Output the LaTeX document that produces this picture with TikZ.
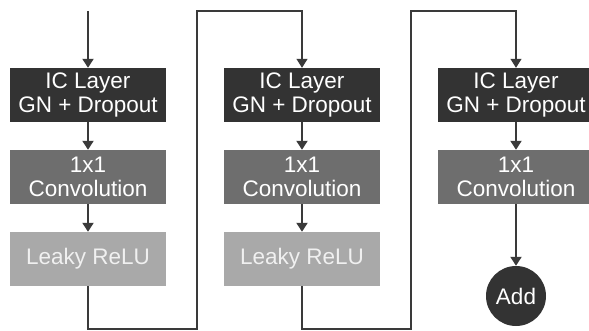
\documentclass[tikz,border=0pt]{standalone}
\usepackage{fontspec}
\setmainfont{Liberation Sans}
\usetikzlibrary{arrows.meta}
\definecolor{dk}{HTML}{333333}
\definecolor{md}{HTML}{6E6E6E}
\definecolor{lt}{HTML}{A9A9A9}
\definecolor{ln}{HTML}{3A3A3A}
\begin{document}
\begin{tikzpicture}[x=1pt,y=-1pt,
  blk/.style={minimum width=156pt,minimum height=54pt,inner sep=0pt,align=center,
    font=\fontsize{22.5}{24}\selectfont,text=white},
  gnbox/.style={blk,fill=dk},
  convbox/.style={blk,fill=md},
  relubox/.style={blk,fill=lt,text=white!94!black},
  addnode/.style={circle,fill=dk,minimum size=60pt,inner sep=0pt,text=white,font=\fontsize{22.5}{24}\selectfont},
  arr/.style={draw=ln,line width=2pt,-{Triangle[width=11pt,length=9pt]}},
  looparr/.style={draw=ln,line width=1.3pt,-{Triangle[width=11pt,length=9pt]}}]
\useasboundingbox (0,0) rectangle (589,331);
% column 1
\node[gnbox] (g1) at (88,95) {IC Layer\\GN + Dropout};
\node[convbox] (c1) at (88,177) {1x1\\Convolution};
\node[relubox] (r1) at (88,259) {Leaky ReLU};
% column 2
\node[gnbox] (g2) at (302,95) {IC Layer\\GN + Dropout};
\node[convbox] (c2) at (302,177) {1x1\\Convolution};
\node[relubox] (r2) at (302,259) {Leaky ReLU};
% column 3
\node[gnbox] (g3) at (516,95) {IC Layer\\GN + Dropout};
\node[convbox] (c3) at (516,177) {1x1\\Convolution};
\node[addnode] (add) at (516,296) {Add};
% helper coordinates
\coordinate (in1) at (88,11);
\coordinate (b1) at (197,329);
\coordinate (t2) at (302,11);
\coordinate (b2) at (411,329);
\coordinate (t3) at (516,11);
% arrows
\draw[arr] (in1) -- (g1.north);
\draw[arr] (g1.south) -- (c1.north);
\draw[arr] (c1.south) -- (r1.north);
\draw[arr] (g2.south) -- (c2.north);
\draw[arr] (c2.south) -- (r2.north);
\draw[arr] (g3.south) -- (c3.north);
\draw[arr] (c3.south) -- (add.north);
\draw[looparr] (r1.south) |- (b1) |- (t2) -- (g2.north);
\draw[looparr] (r2.south) |- (b2) |- (t3) -- (g3.north);
\end{tikzpicture}
\end{document}
